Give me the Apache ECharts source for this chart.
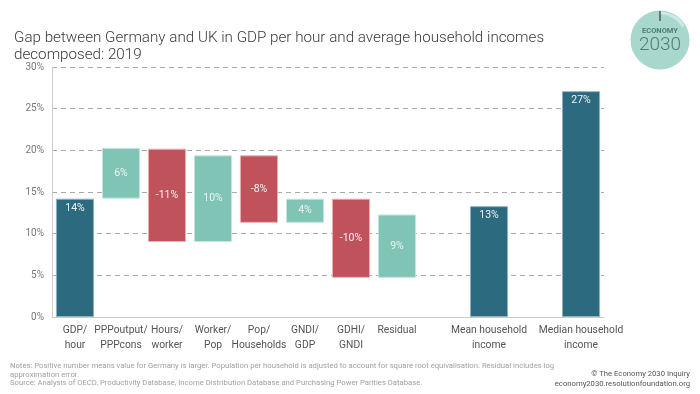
<!DOCTYPE html>
<html>
<head>
<meta charset="utf-8">
<script src="https://cdn.jsdelivr.net/npm/echarts@6/dist/echarts.min.js"></script>
<style>html,body{margin:0;padding:0;background:#fff}#c{width:700px;height:394px}</style>
</head>
<body>
<div id="c"></div>
<script>
// ---- data ----
var categories = ['GDP/\nhour','PPPoutput/\nPPPcons','Hours/\nworker','Worker/\nPop','Pop/\nHouseholds','GNDI/\nGDP','GDHI/\nGNDI','Residual','','Mean household\nincome','','Median household\nincome'];
var barStart = [0, 14.2, 20.2, 9.0, 19.4, 11.3, 14.2, 4.7, null, 0, null, 0];
var barEnd   = [14.2, 20.3, 9.0, 19.4, 11.3, 14.2, 4.7, 12.3, null, 13.3, null, 27.1];
var barLabels = ['14%','6%','-11%','10%','-8%','4%','-10%','9%','','13%','','27%'];
var barKind = ['total','up','down','up','down','up','down','up',null,'total',null,'total'];
var yTicks = [0, 5, 10, 15, 20, 25, 30];

var colors = {total:'#2c6a7f', up:'#80c4b5', down:'#c0525c'};
var borders = {total:'#8fb3c0', up:'#c6e6de', down:'#e6b3b7'};

var baseData = [], heightData = [];
for (var i = 0; i < categories.length; i++) {
  if (barStart[i] === null) { baseData.push(null); heightData.push(null); continue; }
  var lo = Math.min(barStart[i], barEnd[i]);
  var hi = Math.max(barStart[i], barEnd[i]);
  baseData.push(lo);
  heightData.push({
    value: hi - lo,
    itemStyle: {color: colors[barKind[i]], borderColor: borders[barKind[i]], borderWidth: 1},
    label: {
      show: true,
      formatter: barLabels[i],
      position: barKind[i] === 'total' ? 'insideTop' : 'inside',
      distance: 4
    }
  });
}

var chart = echarts.init(document.getElementById('c'), null, {renderer:'canvas'});
chart.setOption({
  animation: false,
  textStyle: {fontFamily: 'Roboto'},
  title: {
    text: 'Gap between Germany and UK in GDP per hour and average household incomes\ndecomposed: 2019',
    left: 9, top: 25,
    textStyle: {fontFamily:'Roboto', fontWeight: 300, fontSize: 15.2, lineHeight: 16.5, color: '#3a3a3a'}
  },
  grid: {left: 52, right: 96, top: 67, bottom: 77, containLabel: false},
  xAxis: {
    type: 'category',
    data: categories,
    axisLine: {show: true, lineStyle: {color: '#cccccc'}},
    axisTick: {show: false},
    axisLabel: {interval: 0, color: '#555', fontSize: 10.3, lineHeight: 15, margin: 6, fontFamily:'Roboto'}
  },
  yAxis: {
    type: 'value',
    min: 0, max: 30, interval: 5,
    axisLine: {show: true, lineStyle: {color: '#cccccc'}},
    axisTick: {show: false},
    axisLabel: {formatter: '{value}%', color: '#777', fontSize: 10, margin: 8, fontFamily:'Roboto'},
    splitLine: {show: true, lineStyle: {color: '#aaaaaa', type: [5, 4], width: 1}}
  },
  series: [
    {
      type: 'bar', stack: 'w', data: baseData, barWidth: '83%',
      itemStyle: {color: 'transparent'}, silent: true
    },
    {
      type: 'bar', stack: 'w', data: heightData, barWidth: '83%',
      label: {color: '#eef4f4', fontSize: 10.5, fontFamily: 'Roboto'}
    }
  ],
  graphic: [
    {type:'circle', shape:{cx:660, cy:40, r:29.5}, style:{fill:'#a7d7cd'}},
    {type:'arc', shape:{cx:660, cy:40, r:27, startAngle:-Math.PI/2, endAngle:-Math.PI/6}, style:{stroke:'rgba(255,255,255,0.45)', lineWidth:3, fill:null}},
    {type:'line', shape:{x1:660, y1:11, x2:660, y2:21}, style:{stroke:'#555', lineWidth:1.5}},
    {type:'text', x:660, y:31, style:{text:'ECONOMY', fill:'#4d7f79', fontSize:7.5, fontWeight:'bold', fontFamily:'Roboto', align:'center', verticalAlign:'middle'}},
    {type:'text', x:660, y:45, style:{text:'2030', fill:'#4d7f79', fontSize:19, fontWeight:300, fontFamily:'Roboto', align:'center', verticalAlign:'middle'}},
    {type:'text', left:10, top:362, style:{text:'Notes: Positive number means value for Germany is larger. Population per household is adjusted to account for square root equivalisation. Residual includes log\napproximation error.\nSource: Analysis of OECD, Productivity Database, Income Distribution Database and Purchasing Power Parities Database.', fill:'#a0a0a0', fontSize:7.7, lineHeight:8.6, fontFamily:'Roboto'}},
    {type:'text', x:690, y:374, style:{text:'© The Economy 2030 Inquiry', fill:'#555', fontSize:7.7, align:'right', verticalAlign:'middle', fontFamily:'Roboto'}},
    {type:'text', x:690, y:384, style:{text:'economy2030.resolutionfoundation.org', fill:'#555', fontSize:7.7, align:'right', verticalAlign:'middle', fontFamily:'Roboto'}}
  ]
});
</script>
</body>
</html>
